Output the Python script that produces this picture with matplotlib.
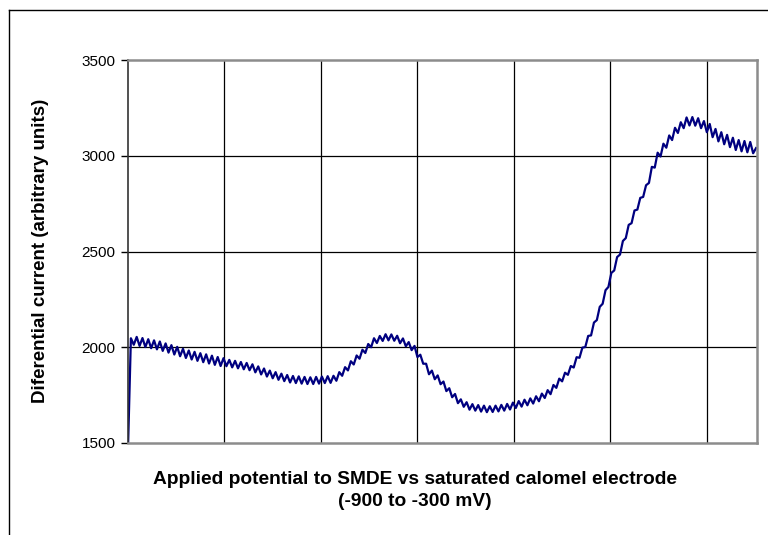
import matplotlib
matplotlib.use("Agg")
from matplotlib import pyplot as plt
from matplotlib.lines import Line2D

plt.rcParams["font.family"] = ["Liberation Sans", "DejaVu Sans"]

# sample index of the scan (-900 to -300 mV), one value every third sample
sample_step = 3
current = [
    1470, 2047, 2013, 2054, 2007, 2048, 2001, 2042, 1995, 2036, 1989, 2030, 1981, 2020, 1972, 2011,
    1962, 2002, 1953, 1992, 1944, 1983, 1936, 1976, 1929, 1969, 1922, 1963, 1915, 1956, 1908, 1949,
    1902, 1943, 1901, 1934, 1895, 1929, 1890, 1923, 1885, 1918, 1880, 1911, 1869, 1900, 1858, 1889,
    1847, 1878, 1838, 1870, 1830, 1862, 1823, 1855, 1816, 1850, 1813, 1848, 1810, 1845, 1808, 1843,
    1808, 1845, 1810, 1847, 1813, 1849, 1814, 1851, 1825, 1870, 1851, 1896, 1879, 1927, 1910, 1957,
    1940, 1987, 1970, 2017, 2000, 2047, 2022, 2059, 2033, 2068, 2036, 2067, 2034, 2060, 2021, 2046,
    2005, 2027, 1985, 2007, 1949, 1961, 1914, 1914, 1859, 1878, 1833, 1853, 1807, 1821, 1771, 1786,
    1739, 1756, 1708, 1728, 1689, 1713, 1674, 1703, 1669, 1698, 1664, 1695, 1661, 1692, 1662, 1695,
    1665, 1699, 1669, 1704, 1675, 1711, 1683, 1719, 1690, 1726, 1697, 1733, 1706, 1744, 1718, 1758,
    1735, 1776, 1755, 1803, 1788, 1836, 1822, 1867, 1856, 1902, 1894, 1948, 1945, 1998, 2001, 2059,
    2062, 2129, 2142, 2211, 2227, 2298, 2315, 2388, 2401, 2471, 2484, 2555, 2570, 2639, 2648, 2714,
    2719, 2780, 2785, 2846, 2858, 2942, 2938, 3016, 2996, 3063, 3042, 3106, 3082, 3146, 3119, 3175,
    3144, 3200, 3158, 3202, 3157, 3196, 3144, 3181, 3123, 3166, 3097, 3140, 3075, 3123, 3060, 3109,
    3045, 3094, 3030, 3082, 3023, 3077, 3018, 3072, 3013, 3040,
]
samples = [k * sample_step for k in range(len(current))]

y_ticks = [1500, 2000, 2500, 3000, 3500]
x_grid = [100, 200, 300, 400, 500, 600]

fig = plt.figure(figsize=(7.68, 5.35), dpi=100)
ax = fig.add_axes([128 / 768, 1 - 443 / 535, 629 / 768, 383 / 535])

ax.plot(samples, current, color="#000080", linewidth=1.6)

ax.set_xlim(0, 652)
ax.set_ylim(1500, 3500)
ax.set_yticks(y_ticks)
ax.set_xticks(x_grid)
ax.tick_params(axis="x", length=0, labelbottom=False)
ax.tick_params(axis="y", direction="out", length=5, width=1, labelsize=11, pad=4)

for v in y_ticks[1:-1]:
    ax.axhline(v, color="black", linewidth=0.9, zorder=1)
for v in x_grid:
    ax.axvline(v, color="black", linewidth=0.9, zorder=1)

for side in ["top", "right", "bottom"]:
    ax.spines[side].set_color("#8c8c8c")
    ax.spines[side].set_linewidth(1.8)
ax.spines["left"].set_color("#333333")
ax.spines["left"].set_linewidth(1.2)

fig.text(41 / 768, 1 - 251 / 535, "Diferential current (arbitrary units)",
         rotation=90, ha="center", va="center", fontsize=13.5, fontweight="bold")
fig.text(415 / 768, 1 - 479 / 535, "Applied potential to SMDE vs saturated calomel electrode",
         ha="center", va="center", fontsize=13.8, fontweight="bold")
fig.text(415 / 768, 1 - 501 / 535, "(-900 to -300 mV)",
         ha="center", va="center", fontsize=13.8, fontweight="bold")

# outer chart frame (runs off the right and bottom edges)
top = 1 - 10 / 535
left = 9 / 768
fig.add_artist(Line2D([left, 1], [top, top], color="black", linewidth=1))
fig.add_artist(Line2D([left, left], [0, top], color="black", linewidth=1))

fig.savefig("out.png", dpi=100)
